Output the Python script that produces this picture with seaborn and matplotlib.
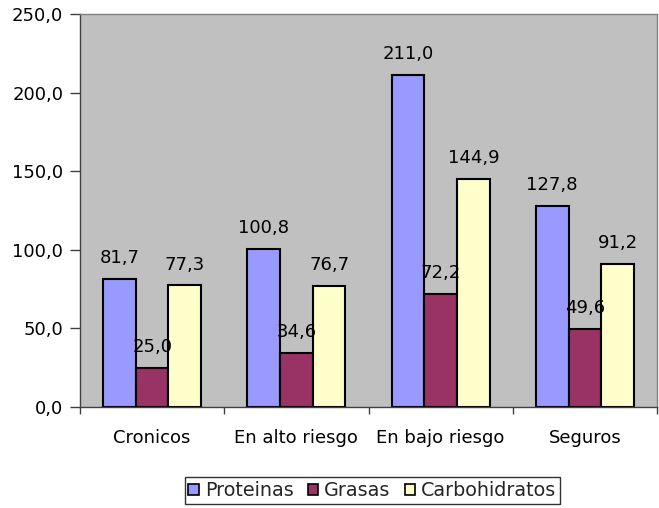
import matplotlib
matplotlib.use("Agg")
import matplotlib.pyplot as plt
import matplotlib.ticker as mticker
from matplotlib.patches import Patch
import seaborn as sns
import pandas as pd

categories = ["Cronicos", "En alto riesgo", "En bajo riesgo", "Seguros"]
series = ["Proteinas", "Grasas", "Carbohidratos"]
proteinas = [81.7, 100.8, 211.0, 127.8]
grasas = [25.0, 34.6, 72.2, 49.6]
carbohidratos = [77.3, 76.7, 144.9, 91.2]
colors = ["#9999FF", "#993366", "#FFFFCC"]
yticks = [0, 50, 100, 150, 200, 250]

rows = []
for name, vals in zip(series, [proteinas, grasas, carbohidratos]):
    for cat, v in zip(categories, vals):
        rows.append({"categoria": cat, "serie": name, "valor": v})
df = pd.DataFrame(rows)

sns.set_theme(style="white")
plt.rcParams["font.family"] = ["DejaVu Sans"]
FS = 13

fig = plt.figure(figsize=(6.59, 5.08), dpi=100)
ax = fig.add_axes([0.1214, 0.1988, 0.8756, 0.7736])
ax.set_facecolor("#C0C0C0")

sns.barplot(data=df, x="categoria", y="valor", hue="serie", order=categories,
            hue_order=series, palette=colors, width=0.68, saturation=1,
            edgecolor="black", linewidth=1.5, errorbar=None, legend=False, ax=ax)

fmt = lambda v: f"{v:.1f}".replace(".", ",")
for container in ax.containers:
    for bar in container:
        h = bar.get_height()
        ax.annotate(fmt(h), (bar.get_x() + bar.get_width() / 2, h),
                    xytext=(0, 11.5), textcoords="offset points",
                    ha="center", va="baseline", fontsize=FS, color="black")

ax.set_ylim(0, 250)
ax.set_xlim(-0.5, len(categories) - 0.5)
ax.set_yticks(yticks)
ax.yaxis.set_major_formatter(mticker.FuncFormatter(lambda v, p: fmt(v)))
ax.set_xticks(range(len(categories)))
ax.set_xticklabels(categories)
ax.set_xticks([i - 0.5 for i in range(len(categories) + 1)], minor=True)
ax.tick_params(axis="x", which="major", length=0, pad=16, labelsize=FS, colors="black")
ax.tick_params(axis="x", which="minor", length=5, width=1, color="#404040", direction="out", bottom=True)
ax.tick_params(axis="y", length=7, width=1, color="#404040", direction="out", left=True,
               labelsize=FS, labelcolor="black", pad=5)
ax.set_xlabel("")
ax.set_ylabel("")

for side in ["top", "right"]:
    ax.spines[side].set_color("#808080")
    ax.spines[side].set_linewidth(1)
for side in ["left", "bottom"]:
    ax.spines[side].set_color("#404040")
    ax.spines[side].set_linewidth(1)

handles = [Patch(facecolor=c, edgecolor="black", linewidth=1.2, label=s) for c, s in zip(colors, series)]
leg = fig.legend(handles=handles, loc="lower center", bbox_to_anchor=(0.565, 0.004), ncol=3,
                 frameon=True, fancybox=False, fontsize=13.8, handlelength=0.55, handleheight=0.55,
                 handletextpad=0.3, columnspacing=0.75, borderpad=0.2, borderaxespad=0.1)
leg.get_frame().set_edgecolor("black")
leg.get_frame().set_linewidth(1)

fig.savefig("out.png", dpi=100, facecolor="white")
